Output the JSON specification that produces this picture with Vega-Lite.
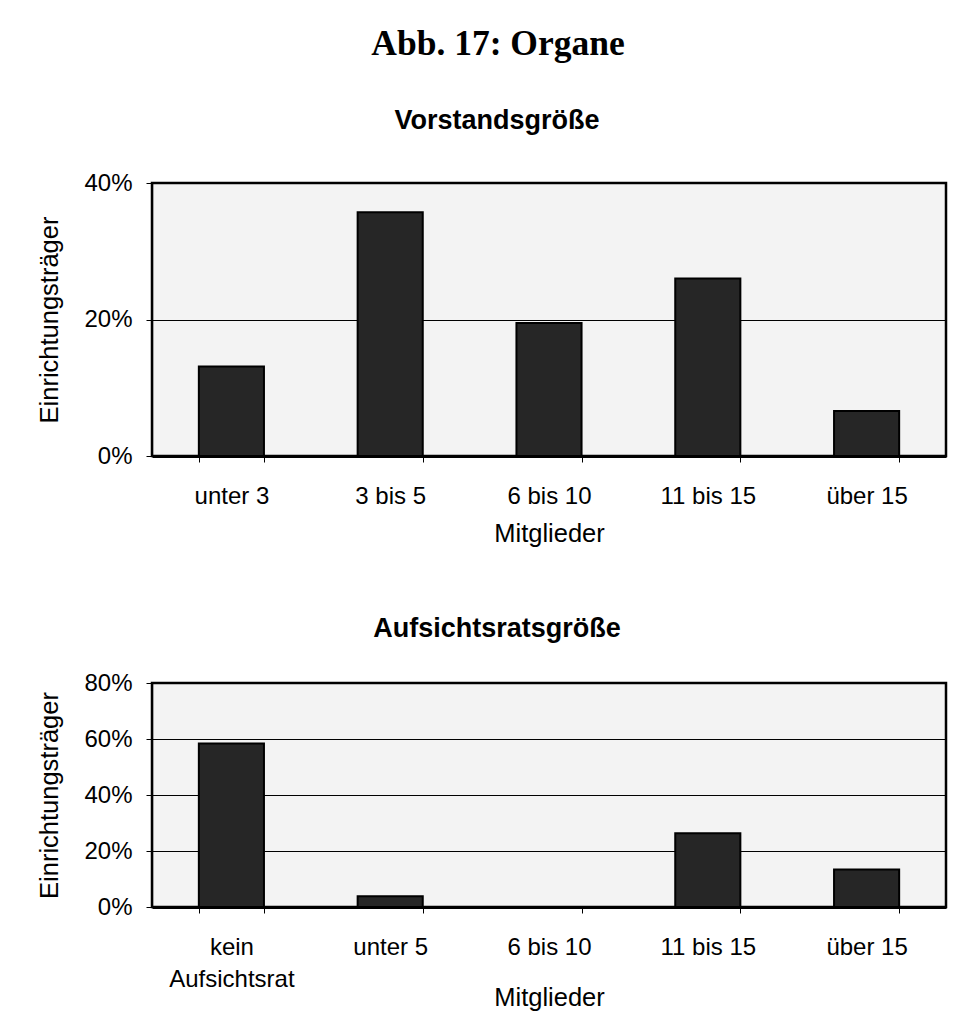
{
  "$schema": "https://vega.github.io/schema/vega-lite/v6.json",
  "background": "white",
  "padding": {"left": 36, "top": 27, "right": 5, "bottom": 5},
  "title": {
    "text": "Abb. 17: Organe",
    "font": "Liberation Serif",
    "fontSize": 35.5,
    "fontWeight": "bold",
    "color": "#000",
    "anchor": "middle",
    "offset": 43,
    "dx": 6
  },
  "datasets": {
    "vorstand": [
      {"kategorie": "unter 3", "anteil": 0.131},
      {"kategorie": "3 bis 5", "anteil": 0.357},
      {"kategorie": "6 bis 10", "anteil": 0.195},
      {"kategorie": "11 bis 15", "anteil": 0.26},
      {"kategorie": "über 15", "anteil": 0.066}
    ],
    "aufsichtsrat": [
      {"kategorie": "kein Aufsichtsrat", "anteil": 0.584},
      {"kategorie": "unter 5", "anteil": 0.038},
      {"kategorie": "6 bis 10", "anteil": 0.0},
      {"kategorie": "11 bis 15", "anteil": 0.263},
      {"kategorie": "über 15", "anteil": 0.134}
    ]
  },
  "spacing": 65,
  "vconcat": [
    {
      "title": {"text": "Vorstandsgröße", "offset": 36, "dx": 5},
      "width": 794,
      "height": 273,
      "data": {"name": "vorstand"},
      "mark": {"type": "bar", "fill": "#262626", "stroke": "#000", "strokeWidth": 2},
      "encoding": {
        "x": {
          "field": "kategorie",
          "type": "nominal",
          "sort": null,
          "scale": {"paddingInner": 0.59, "paddingOuter": 0.295},
          "axis": {"title": "Mitglieder", "labelPadding": 22, "titlePadding": 13}
        },
        "y": {
          "field": "anteil",
          "type": "quantitative",
          "scale": {"domain": [0, 0.4]},
          "axis": {"values": [0, 0.2, 0.4], "format": "0%", "title": "Einrichtungsträger"}
        }
      }
    },
    {
      "title": {"text": "Aufsichtsratsgröße", "offset": 28, "dx": 5},
      "width": 794,
      "height": 224,
      "data": {"name": "aufsichtsrat"},
      "mark": {"type": "bar", "fill": "#262626", "stroke": "#000", "strokeWidth": 2},
      "encoding": {
        "x": {
          "field": "kategorie",
          "type": "nominal",
          "sort": null,
          "scale": {"paddingInner": 0.59, "paddingOuter": 0.295},
          "axis": {
            "title": "Mitglieder",
            "labelPadding": 22,
            "labelLineHeight": 32,
            "labelExpr": "datum.value == 'kein Aufsichtsrat' ? ['kein', 'Aufsichtsrat'] : datum.value",
            "titlePadding": -6
          }
        },
        "y": {
          "field": "anteil",
          "type": "quantitative",
          "scale": {"domain": [0, 0.8]},
          "axis": {"values": [0, 0.2, 0.4, 0.6, 0.8], "format": "0%", "title": "Einrichtungsträger"}
        }
      }
    }
  ],
  "config": {
    "font": "Liberation Sans",
    "view": {"stroke": "#000", "strokeWidth": 2.5, "fill": "#f3f3f3"},
    "title": {"font": "Liberation Sans", "fontSize": 27, "fontWeight": "bold", "color": "#000", "anchor": "middle", "frame": "bounds"},
    "axis": {
      "labelFont": "Liberation Sans",
      "labelFontSize": 24,
      "labelColor": "#000",
      "titleFont": "Liberation Sans",
      "titleFontSize": 25.5,
      "titleFontWeight": "normal",
      "titleColor": "#000",
      "domainColor": "#000",
      "tickColor": "#000",
      "gridColor": "#000",
      "gridOpacity": 1,
      "gridWidth": 1.2,
      "tickSize": 6
    },
    "axisX": {"labelAngle": 0, "tickBand": "extent", "domainWidth": 3, "grid": false},
    "axisY": {"grid": true, "domainWidth": 1.2, "labelPadding": 14, "titlePadding": 21}
  }
}
